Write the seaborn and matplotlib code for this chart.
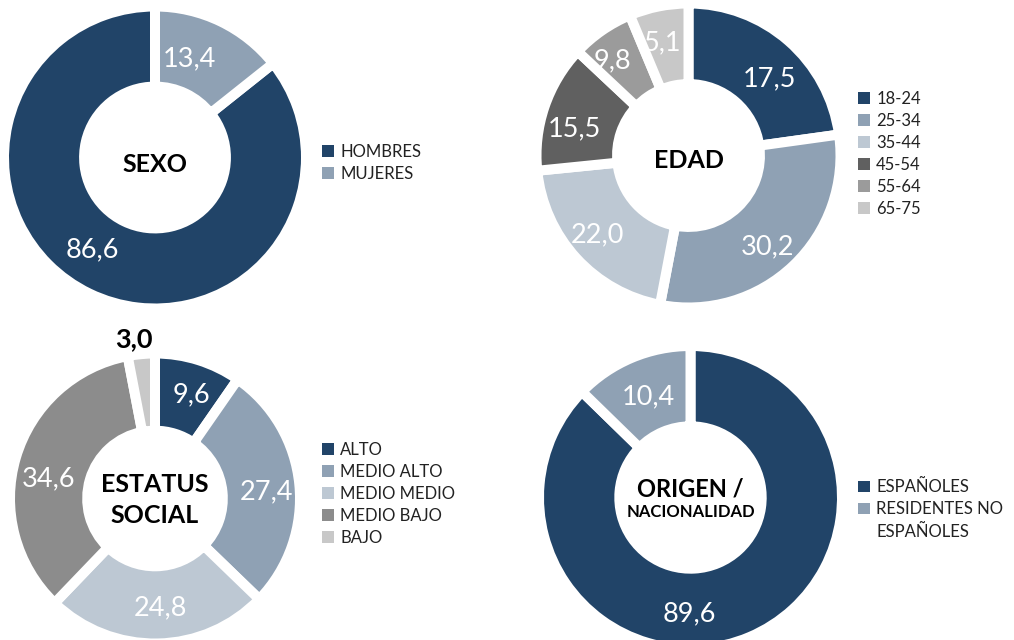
import matplotlib
matplotlib.use('Agg')
import matplotlib.pyplot as plt
from matplotlib.patches import Patch
import numpy as np
import seaborn as sns

# ---- data (printed values) ----
sexo_cats = ['HOMBRES', 'MUJERES']
sexo_vals = [86.6, 13.4]

edad_cats = ['18-24', '25-34', '35-44', '45-54', '55-64', '65-75']
edad_vals = [17.5, 30.2, 22.0, 15.5, 9.8, 5.1]

estatus_cats = ['ALTO', 'MEDIO ALTO', 'MEDIO MEDIO', 'MEDIO BAJO', 'BAJO']
estatus_vals = [9.6, 27.4, 24.8, 34.6, 3.0]

origen_cats = ['ESPAÑOLES', 'RESIDENTES NO\nESPAÑOLES']
origen_vals = [89.6, 10.4]

# share of the ring each slice takes in the picture (%);
# the original chart does not draw some slices in exact proportion to their labels
sexo_arc = [85.7, 14.3]
edad_arc = [22.8, 30.2, 20.4, 13.6, 6.7, 6.3]
estatus_arc = estatus_vals
origen_arc = [87.3, 12.7]

# ---- colours ----
NAVY = '#214468'
BLUEGREY = '#8FA1B4'
LIGHTBLUE = '#BDC8D3'
sexo_cols = [NAVY, BLUEGREY]
edad_cols = [NAVY, BLUEGREY, LIGHTBLUE, '#606060', '#9B9B9B', '#C8C8C8']
estatus_cols = [NAVY, BLUEGREY, LIGHTBLUE, '#8C8C8C', '#C8C8C8']
origen_cols = [NAVY, BLUEGREY]

sns.set_style('white')
plt.rcParams['font.family'] = ['Lato', 'DejaVu Sans']

W, H = 1014, 640
fig = plt.figure(figsize=(W / 100, H / 100), dpi=100)
GAP = 10      # white gap between slices, px
HOLE = 0.52   # hole radius / outer radius


def fmt(v):
    return f'{v:.1f}'.replace('.', ',')


def donut(cx, cy, R, arcs, vals, cols, lab_pos, titles, counter=False):
    half = GAP / 2
    ext = R + half
    ax = fig.add_axes([(cx - ext) / W, 1 - (cy + ext) / H, 2 * ext / W, 2 * ext / H])
    hole = HOLE * R - half
    ax.pie(arcs, colors=cols, startangle=90, counterclock=counter, radius=1,
           wedgeprops=dict(width=(ext - hole) / ext, edgecolor='white',
                           linewidth=GAP * 0.72))
    ax.set_xlim(-1, 1)
    ax.set_ylim(-1, 1)
    ax.set_aspect('equal')
    ax.axis('off')
    for v, (ang, rf) in zip(vals, lab_pos):
        a = np.radians(ang)
        outside = rf > 1
        ax.text(rf * R / ext * np.cos(a), rf * R / ext * np.sin(a), fmt(v),
                ha='center', va='center_baseline', fontsize=19.5,
                color='black' if outside else 'white',
                fontweight='bold' if outside else 'normal')
    for txt, size, dy in titles:
        ax.text(0, -dy / ext, txt, ha='center', va='baseline', fontsize=size,
                fontweight='bold', color='black')
    return ax


def legend(x, ycen, cats, cols):
    handles, labels = [], []
    for c, col in zip(cats, cols):
        parts = c.split('\n')
        handles.append(Patch(facecolor=col, edgecolor='none'))
        labels.append(parts[0])
        for p in parts[1:]:
            handles.append(Patch(facecolor='none', edgecolor='none'))
            labels.append(p)
    fig.legend(handles, labels, loc='center left', bbox_to_anchor=(x / W, 1 - ycen / H),
               frameon=False, fontsize=12, handlelength=0.69, handleheight=0.69,
               handletextpad=0.4, labelspacing=0.36, borderpad=0, borderaxespad=0,
               labelcolor='#222222')


# label positions: (angle in degrees, radius as fraction of outer radius)
donut(155, 157.5, 146, sexo_arc, sexo_vals, sexo_cols,
      [(235, 0.75), (71, 0.735)],
      [('SEXO', 18, 14.5)], counter=True)
legend(322, 163, sexo_cats, sexo_cols)

donut(688.5, 155.5, 147, edad_arc, edad_vals, edad_cols,
      [(44.5, 0.77), (-48.2, 0.81), (-139.6, 0.81), (165.7, 0.80), (127.8, 0.84), (102.7, 0.80)],
      [('EDAD', 18, 13)])
legend(858, 153.7, edad_cats, edad_cols)

donut(155, 498.5, 140, estatus_arc, estatus_vals, estatus_cols,
      [(71, 0.80), (4.6, 0.80), (-87, 0.765), (168, 0.775), (97.4, 1.16)],
      [('ESTATUS', 18, -6.5), ('SOCIAL', 18, 24.5)])
legend(322, 493.8, estatus_cats, estatus_cols)

donut(690.5, 497.5, 146.5, origen_arc, origen_vals, origen_cols,
      [(-90.5, 0.78), (112, 0.76)],
      [('ORIGEN /', 17, -1.5), ('NACIONALIDAD', 12, 19.5)])
legend(858, 509.5, origen_cats, origen_cols)

fig.savefig('out.png', dpi=100)
